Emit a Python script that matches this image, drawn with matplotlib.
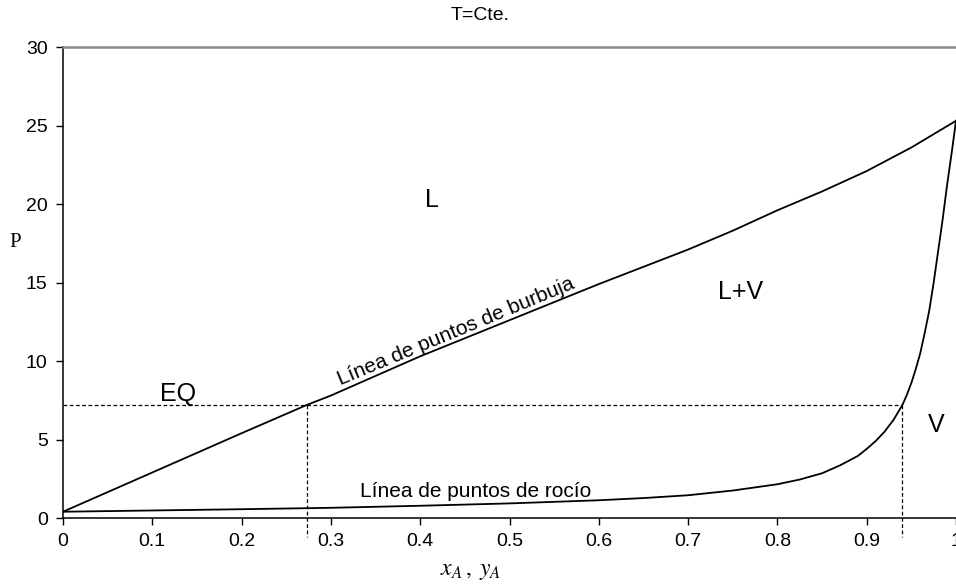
import numpy as np
import matplotlib
matplotlib.use("Agg")
import matplotlib.pyplot as plt

plt.rcParams["font.family"] = ["Liberation Sans", "DejaVu Sans"]

# Bubble-point line (x_A, P)
bubble_x = [0.0, 0.1, 0.2, 0.273, 0.3, 0.4, 0.5, 0.6, 0.7, 0.75, 0.8, 0.85,
            0.9, 0.95, 1.0]
bubble_p = [0.4, 2.9, 5.4, 7.2, 7.8, 10.3, 12.6, 14.9, 17.1, 18.3, 19.6, 20.8,
            22.1, 23.6, 25.3]

# Dew-point line (y_A, P)
dew_x = [0.0, 0.1, 0.2, 0.3, 0.4, 0.5, 0.6, 0.65, 0.7, 0.75, 0.8, 0.825, 0.85,
         0.87, 0.89, 0.9, 0.91, 0.92, 0.93, 0.94, 0.945, 0.95, 0.955, 0.96,
         0.965, 0.97, 0.975, 0.98, 0.985, 0.99, 0.995, 1.0]
dew_p = [0.4, 0.48, 0.56, 0.65, 0.78, 0.93, 1.13, 1.27, 1.45, 1.75, 2.15, 2.45,
         2.85, 3.35, 3.95, 4.4, 4.9, 5.5, 6.25, 7.2, 7.85, 8.6, 9.5, 10.5,
         11.8, 13.2, 15.0, 17.0, 19.0, 21.2, 23.2, 25.3]

# equilibrium construction
p_eq = 7.2
x_eq = 0.273
y_eq = 0.94

xticks = [0, 0.1, 0.2, 0.3, 0.4, 0.5, 0.6, 0.7, 0.8, 0.9, 1.0]
xtick_labels = ["0", "0.1", "0.2", "0.3", "0.4", "0.5", "0.6", "0.7", "0.8", "0.9", "1"]
yticks = [0, 5, 10, 15, 20, 25, 30]

fig = plt.figure(figsize=(9.56, 5.84), dpi=100)
ax = fig.add_axes([0.0659, 0.113, 0.9341, 0.8065])

ax.plot(bubble_x, bubble_p, color="black", lw=1.3)
ax.plot(dew_x, dew_p, color="black", lw=1.3)

# dashed guides
ax.plot([0, y_eq], [p_eq, p_eq], color="black", lw=0.9, ls=(0, (3, 2)))
ax.plot([x_eq, x_eq], [p_eq, -1.2], color="black", lw=0.9, ls=(0, (3, 2)), clip_on=False)
ax.plot([y_eq, y_eq], [p_eq, -1.2], color="black", lw=0.9, ls=(0, (3, 2)), clip_on=False)

ax.set_xlim(0, 1)
ax.set_ylim(0, 30)
ax.set_xticks(xticks)
ax.set_xticklabels(xtick_labels)
ax.set_yticks(yticks)
ax.tick_params(labelsize=14, direction="out", length=5, width=1, pad=6)

ax.spines["right"].set_visible(False)
ax.spines["top"].set_color("#888888")
ax.spines["top"].set_linewidth(1.8)
ax.spines["left"].set_linewidth(1.1)
ax.spines["bottom"].set_linewidth(1.1)

# region labels
ax.text(0.413, 20.25, "L", fontsize=18, ha="center", va="center")
ax.text(0.759, 14.4, "L+V", fontsize=18, ha="center", va="center")
ax.text(0.129, 7.9, "EQ", fontsize=18, ha="center", va="center")
ax.text(0.978, 5.9, "V", fontsize=18, ha="center", va="center")

ax.text(0.44, 11.9, "Línea de puntos de burbuja", fontsize=15,
        ha="center", va="center", rotation=22.5, rotation_mode="anchor")
ax.text(0.4625, 1.7, "Línea de puntos de rocío", fontsize=15,
        ha="center", va="center")

fig.text(0.502, 0.974, "T=Cte.", fontsize=14, ha="center", va="center")
fig.text(0.016, 0.584, "P", fontsize=15, ha="center", va="center",
         family=["Liberation Serif", "DejaVu Serif"])
fig.text(0.492, 0.022, r"$x_A\,,\;y_A$", fontsize=17, ha="center", va="center",
         math_fontfamily="stix")

fig.savefig("out.png", dpi=100)
